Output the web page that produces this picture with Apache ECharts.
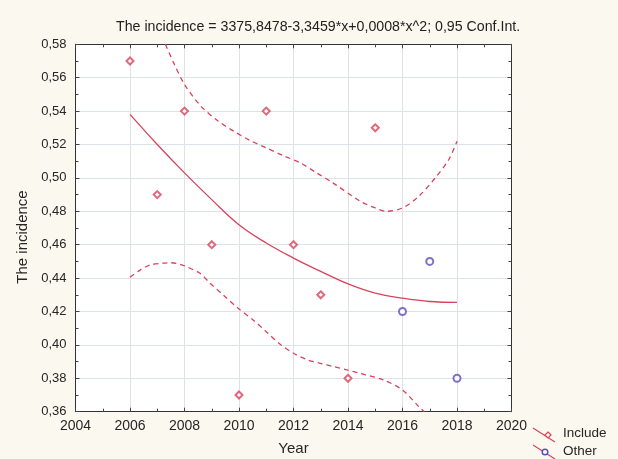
<!DOCTYPE html>
<html>
<head>
<meta charset="utf-8">
<script src="https://cdn.jsdelivr.net/npm/echarts@6/dist/echarts.min.js"></script>
<style>
  html, body { margin: 0; padding: 0; background: #fbf8ef; }
  #chart { width: 618px; height: 459px; }
</style>
</head>
<body>
<div id="chart"></div>
<script>
// Observed incidence per year
var includeYears = [2006, 2007, 2008, 2009, 2010, 2011, 2012, 2013, 2014, 2015];
var includeValues = [0.57, 0.49, 0.54, 0.46, 0.37, 0.54, 0.46, 0.43, 0.38, 0.53];
var otherYears = [2016, 2017, 2018];
var otherValues = [0.42, 0.45, 0.38];

// Quadratic fit curve
var fitYears = [2006, 2007, 2008, 2009, 2010, 2011, 2012, 2013, 2014, 2015, 2016, 2017, 2018];
var fitValues = [0.538, 0.520, 0.503, 0.487, 0.472, 0.461, 0.452, 0.444, 0.4365, 0.431, 0.428, 0.426, 0.4255];

// 0.95 confidence band
var upperYears = [2007.3, 2007.6, 2008, 2008.6, 2009.2, 2009.8, 2010.4, 2011, 2011.6, 2012.25, 2012.85, 2013.45, 2014.45, 2015.0, 2015.4, 2016, 2016.6, 2017.2, 2017.7, 2018];
var upperValues = [0.58, 0.569, 0.556, 0.543, 0.5345, 0.528, 0.5225, 0.518, 0.5135, 0.509, 0.503, 0.497, 0.486, 0.482, 0.480, 0.482, 0.489, 0.500, 0.511, 0.522];
var lowerYears = [2006, 2006.37, 2006.73, 2007.1, 2007.47, 2007.83, 2008.08, 2008.57, 2008.94, 2009.42, 2009.97, 2010.52, 2011.02, 2011.5, 2012, 2012.49, 2012.98, 2013.47, 2013.96, 2014.44, 2015.3, 2016, 2016.6, 2016.8];
var lowerValues = [0.4405, 0.4448, 0.4478, 0.4488, 0.4492, 0.4483, 0.4468, 0.4429, 0.4369, 0.4299, 0.4219, 0.4149, 0.4076, 0.4005, 0.3950, 0.3912, 0.3890, 0.3870, 0.3850, 0.3830, 0.3790, 0.3730, 0.3630, 0.3600];

var titleText = 'The incidence = 3375,8478-3,3459*x+0,0008*x^2; 0,95 Conf.Int.';

function pairs(xs, ys) {
  return xs.map(function (x, i) { return [x, ys[i]]; });
}

var RED = '#d8435a';
var BLUE = '#5b4fb8';
var FONT = 'Liberation Sans';
var TEXT = '#262626';

var chart = echarts.init(document.getElementById('chart'));

var xCommon = {
  type: 'value', min: 2004, max: 2020, interval: 2,
  axisLine: { show: true, onZero: false, lineStyle: { color: '#333', width: 1 } },
  axisTick: { show: true, inside: true, length: 4, lineStyle: { color: '#444' } },
  minorTick: { show: true, splitNumber: 2, length: 3, lineStyle: { color: '#444' } }
};
var yCommon = {
  type: 'value', min: 0.36, max: 0.58, interval: 0.02,
  axisLine: { show: true, onZero: false, lineStyle: { color: '#333', width: 1 } },
  axisTick: { show: true, inside: true, length: 4, lineStyle: { color: '#444' } },
  minorTick: { show: true, splitNumber: 2, length: 3, lineStyle: { color: '#444' } }
};

chart.setOption({
  backgroundColor: '#fbf8ef',
  animation: false,
  textStyle: { fontFamily: FONT },
  title: {
    text: titleText,
    left: 111,
    top: 15,
    textStyle: { fontFamily: FONT, fontSize: 14.2, fontWeight: 'normal', color: '#222' }
  },
  grid: {
    left: 75.5, right: 106.5, top: 44.3, bottom: 47.3,
    containLabel: false, outerBoundsMode: 'none',
    show: true, backgroundColor: '#ffffff', borderWidth: 0
  },
  xAxis: [
    Object.assign({}, xCommon, {
      position: 'bottom',
      name: 'Year', nameLocation: 'middle', nameGap: 30,
      nameTextStyle: { fontFamily: FONT, fontSize: 15, color: TEXT },
      axisLabel: {
        fontFamily: FONT, fontSize: 14, color: TEXT, margin: 7,
        formatter: function (v) { return String(v); }
      },
      splitLine: { show: true, lineStyle: { color: '#dde2e8', width: 1 } }
    }),
    Object.assign({}, xCommon, {
      position: 'top',
      axisLabel: { show: false },
      splitLine: { show: false }
    })
  ],
  yAxis: [
    Object.assign({}, yCommon, {
      position: 'left',
      name: 'The incidence', nameLocation: 'middle', nameGap: 36,
      nameTextStyle: { fontFamily: FONT, fontSize: 15, color: TEXT, padding: [0, 18, 0, 0] },
      axisLabel: {
        fontFamily: FONT, fontSize: 13, color: TEXT, margin: 9,
        formatter: function (v) { return v.toFixed(2).replace('.', ','); }
      },
      splitLine: { show: true, lineStyle: { color: '#dde2e8', width: 1 } }
    }),
    Object.assign({}, yCommon, {
      position: 'right',
      axisLabel: { show: false },
      splitLine: { show: false }
    })
  ],
  series: [
    {
      name: 'Upper', type: 'line', data: pairs(upperYears, upperValues),
      smooth: 0.3, showSymbol: false, clip: true,
      lineStyle: { color: RED, width: 1.3, type: [5, 4] }
    },
    {
      name: 'Lower', type: 'line', data: pairs(lowerYears, lowerValues),
      smooth: 0.3, showSymbol: false, clip: true,
      lineStyle: { color: RED, width: 1.3, type: [5, 4] }
    },
    {
      name: 'Fit', type: 'line', data: pairs(fitYears, fitValues),
      smooth: 0.4, showSymbol: false,
      lineStyle: { color: RED, width: 1.3 }
    },
    {
      name: 'Include', type: 'scatter', data: pairs(includeYears, includeValues),
      symbol: 'emptyDiamond', symbolSize: 7,
      itemStyle: { color: RED, borderColor: RED, borderWidth: 1.2 }
    },
    {
      name: 'Other', type: 'scatter', data: pairs(otherYears, otherValues),
      symbol: 'emptyCircle', symbolSize: 7,
      itemStyle: { color: BLUE, borderColor: BLUE, borderWidth: 1.5 }
    }
  ],
  graphic: [
    { type: 'line', shape: { x1: 533, y1: 428, x2: 555, y2: 442 }, style: { stroke: RED, lineWidth: 1.2 } },
    { type: 'polygon', shape: { points: [[548, 432], [551, 435], [548, 438], [545, 435]] }, style: { fill: '#fff', stroke: RED, lineWidth: 1.2 } },
    { type: 'text', left: 563, top: 426, style: { text: 'Include', fontFamily: FONT, fontSize: 13.5, fill: TEXT } },
    { type: 'line', shape: { x1: 533, y1: 445, x2: 555, y2: 459 }, style: { stroke: RED, lineWidth: 1.2 } },
    { type: 'circle', shape: { cx: 545, cy: 452, r: 2.8 }, style: { fill: '#fff', stroke: BLUE, lineWidth: 1.5 } },
    { type: 'text', left: 563, top: 444, style: { text: 'Other', fontFamily: FONT, fontSize: 13.5, fill: TEXT } }
  ]
});
</script>
</body>
</html>
